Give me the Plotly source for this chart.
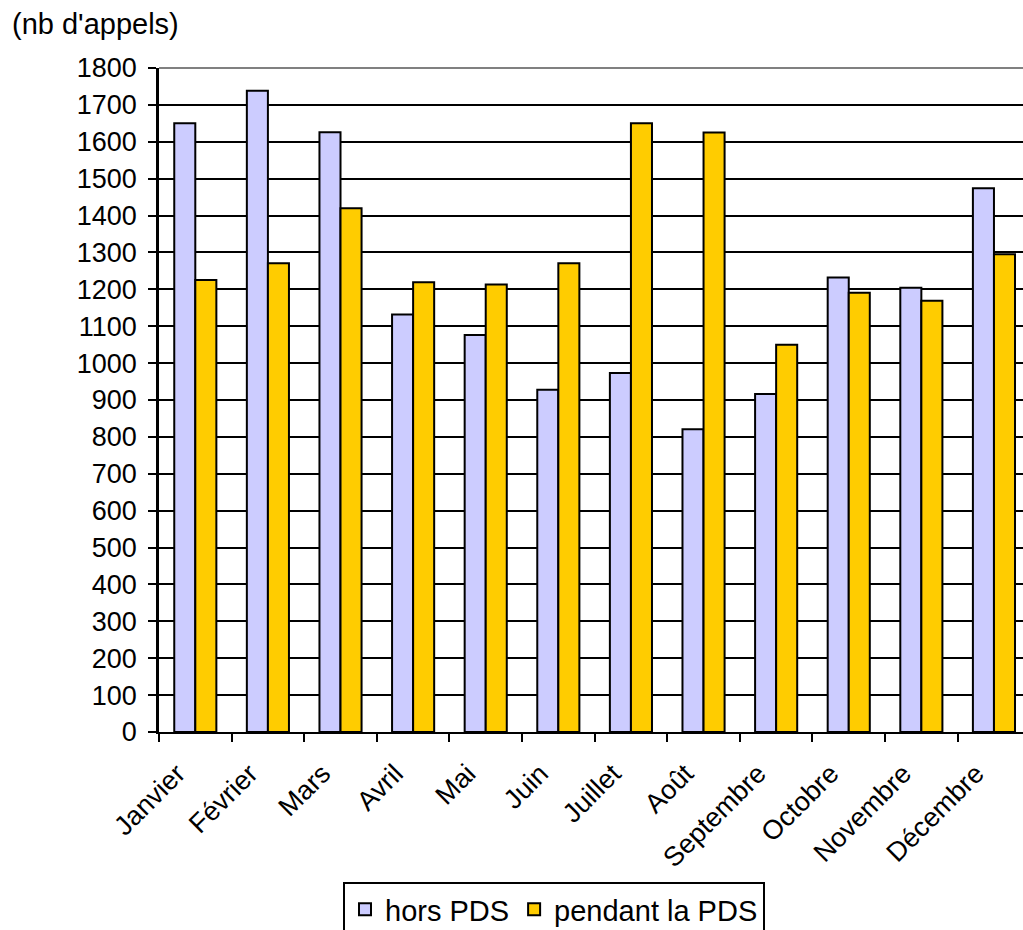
import plotly.graph_objects as go

months = ["Janvier", "Février", "Mars", "Avril", "Mai", "Juin", "Juillet",
          "Août", "Septembre", "Octobre", "Novembre", "Décembre"]
hors_pds = [1650, 1738, 1626, 1132, 1076, 928, 973, 821, 916, 1232, 1204, 1474]
pendant_pds = [1225, 1271, 1420, 1219, 1213, 1271, 1650, 1625, 1050, 1191, 1169, 1295]
y_ticks = list(range(0, 1801, 100))

FONT = "Liberation Sans, Arial, sans-serif"
FS = 27

fig = go.Figure()
fig.add_trace(go.Bar(name="hors PDS", x=months, y=hors_pds,
                     marker=dict(color="#CCCCFF", line=dict(color="black", width=2))))
fig.add_trace(go.Bar(name="pendant la PDS", x=months, y=pendant_pds,
                     marker=dict(color="#FFCC00", line=dict(color="black", width=2))))

fig.update_layout(
    width=1023, height=930,
    margin=dict(l=159, r=0, t=68, b=198, pad=0, autoexpand=False),
    paper_bgcolor="white", plot_bgcolor="white",
    barmode="group", bargap=0.42, bargroupgap=0,
    font=dict(family=FONT, size=FS, color="black"),
    showlegend=True,
    legend=dict(orientation="h", x=(343 - 159) / 864, xanchor="left",
                y=(732 - 882) / 664, yanchor="top",
                bordercolor="black", borderwidth=2, bgcolor="white",
                font=dict(family=FONT, size=29, color="black"),
                itemsizing="constant"),
)
fig.update_xaxes(
    type="category", range=[-0.5, 11.4], automargin=False,
    tickson="boundaries", ticks="outside", ticklen=8, tickwidth=2, tickcolor="black",
    showline=True, linecolor="black", linewidth=2,
    showgrid=False, tickangle=-45,
    ticklabelstandoff=13, ticklabelshift=-18,
    tickfont=dict(family=FONT, size=FS, color="black"),
)
fig.update_yaxes(
    range=[0, 1800], tickvals=y_ticks, ticktext=[str(v) for v in y_ticks],
    automargin=False,
    ticks="outside", ticklen=8, tickwidth=2, tickcolor="black",
    showline=True, linecolor="black", linewidth=2.5,
    showgrid=True, gridcolor="black", gridwidth=2,
    zeroline=False, ticklabelstandoff=6,
    tickfont=dict(family=FONT, size=FS, color="black"),
)
fig.add_shape(type="line", xref="paper", yref="paper", x0=0, x1=1, y0=1, y1=1,
              line=dict(color="#808080", width=2))
fig.add_annotation(text="(nb d'appels)", xref="paper", yref="paper",
                   x=(10 - 159) / 864, y=1 + (68 - 24) / 664,
                   xanchor="left", yanchor="middle", showarrow=False,
                   font=dict(family=FONT, size=29, color="black"))

fig.write_html("out.html")
